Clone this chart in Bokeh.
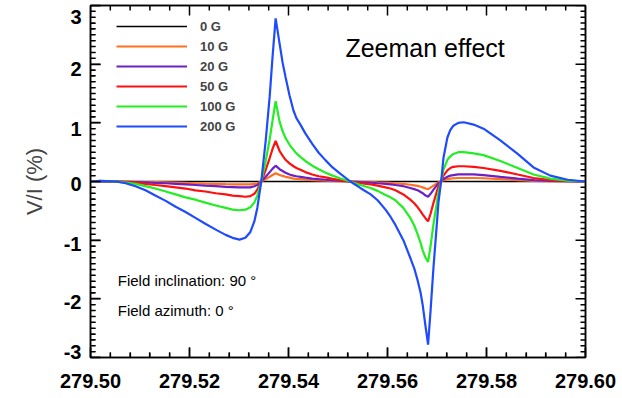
import numpy as np
from bokeh.plotting import figure
from bokeh.models import (LinearAxis, NumeralTickFormatter, FixedTicker,
                          Legend, LegendItem, Label, Range1d)
from bokeh.embed import file_html
from bokeh.resources import INLINE

# wavelength (nm)
wl = [279.5000, 279.5020, 279.5051, 279.5071, 279.5091, 279.5111, 279.5131, 279.5152,
      279.5172, 279.5192, 279.5212, 279.5232, 279.5253, 279.5273, 279.5287, 279.5301,
      279.5313, 279.5323, 279.5331, 279.5337, 279.5345, 279.5354, 279.5362, 279.5368,
      279.5374, 279.5382, 279.5388, 279.5394, 279.5402, 279.5410, 279.5416, 279.5424,
      279.5434, 279.5448, 279.5461, 279.5475, 279.5489, 279.5505,
      279.5525, 279.5545, 279.5566, 279.5580, 279.5596, 279.5606, 279.5616, 279.5632, 279.5646,
      279.5654, 279.5661, 279.5667, 279.5671, 279.5677, 279.5682, 279.5687, 279.5693, 279.5699,
      279.5703, 279.5709, 279.5713, 279.5721, 279.5727, 279.5733, 279.5743, 279.5754, 279.5774,
      279.5794, 279.5828, 279.5863, 279.5895, 279.5929, 279.5964, 279.6000]

v_0G = [0.0] * len(wl)

v_10G = [0.0, 0.0, 0.0, 0.0, -0.005, -0.01, -0.012, -0.015,
         -0.02, -0.025, -0.03, -0.035, -0.04, -0.045, -0.048, -0.05,
         -0.05, -0.05, -0.04, -0.03, 0.0, 0.04, 0.08, 0.11,
         0.14, 0.11, 0.095, 0.08, 0.065, 0.05, 0.045, 0.04,
         0.032, 0.025, 0.02, 0.015, 0.01, 0.005,
         0.0, -0.005, -0.01, -0.015, -0.02, -0.025, -0.03, -0.04, -0.055,
         -0.065, -0.075, -0.09, -0.10, -0.12, -0.13, -0.105, -0.07, -0.035,
         -0.015, 0.005, 0.02, 0.04, 0.05, 0.055, 0.06, 0.06, 0.06,
         0.055, 0.04, 0.025, 0.012, 0.005, 0.0, 0.0]

v_20G = [0.0, 0.0, 0.0, -0.005, -0.01, -0.015, -0.025, -0.03,
         -0.04, -0.05, -0.06, -0.07, -0.08, -0.09, -0.095, -0.10,
         -0.10, -0.10, -0.08, -0.06, 0.0, 0.08, 0.16, 0.22,
         0.27, 0.21, 0.18, 0.15, 0.12, 0.10, 0.09, 0.08,
         0.065, 0.05, 0.04, 0.03, 0.02, 0.01,
         0.0, -0.01, -0.02, -0.03, -0.04, -0.05, -0.06, -0.08, -0.11,
         -0.13, -0.15, -0.18, -0.20, -0.24, -0.26, -0.21, -0.14, -0.07,
         -0.03, 0.01, 0.04, 0.08, 0.10, 0.11, 0.12, 0.12, 0.12,
         0.11, 0.08, 0.05, 0.025, 0.01, 0.005, 0.0]

v_50G = [0.0, 0.005, 0.0, -0.01, -0.02, -0.04, -0.06, -0.08,
         -0.10, -0.12, -0.15, -0.17, -0.20, -0.22, -0.24, -0.25,
         -0.26, -0.25, -0.21, -0.14, 0.0, 0.20, 0.40, 0.56,
         0.69, 0.52, 0.44, 0.37, 0.31, 0.26, 0.23, 0.20,
         0.16, 0.12, 0.09, 0.07, 0.045, 0.02,
         0.0, -0.03, -0.05, -0.07, -0.10, -0.12, -0.15, -0.22, -0.31,
         -0.37, -0.44, -0.51, -0.56, -0.63, -0.68, -0.55, -0.36, -0.19,
         -0.08, 0.02, 0.10, 0.19, 0.23, 0.25, 0.26, 0.26, 0.25,
         0.23, 0.18, 0.12, 0.06, 0.025, 0.01, 0.0]

v_100G = [0.0, 0.01, 0.0, -0.02, -0.04, -0.08, -0.12, -0.17,
          -0.22, -0.27, -0.31, -0.36, -0.41, -0.45, -0.48, -0.49,
          -0.48, -0.44, -0.36, -0.24, 0.0, 0.35, 0.72, 1.05,
          1.37, 1.02, 0.86, 0.74, 0.63, 0.54, 0.48, 0.42,
          0.35, 0.27, 0.21, 0.15, 0.10, 0.05,
          0.0, -0.06, -0.11, -0.16, -0.23, -0.27, -0.32, -0.45, -0.62,
          -0.75, -0.90, -1.05, -1.17, -1.30, -1.37, -1.10, -0.72, -0.40,
          -0.18, 0.03, 0.20, 0.37, 0.43, 0.47, 0.50, 0.50, 0.48,
          0.45, 0.35, 0.23, 0.12, 0.05, 0.015, 0.0]

v_200G = [0.0, 0.01, 0.0, -0.03, -0.08, -0.15, -0.24, -0.33,
          -0.43, -0.52, -0.62, -0.72, -0.82, -0.91, -0.96, -0.99,
          -0.96, -0.86, -0.68, -0.45, 0.0, 0.70, 1.45, 2.15,
          2.78, 2.35, 2.03, 1.78, 1.47, 1.21, 1.08, 0.97,
          0.82, 0.64, 0.49, 0.36, 0.24, 0.13,
          0.0, -0.11, -0.22, -0.32, -0.48, -0.60, -0.74, -1.00, -1.30,
          -1.48, -1.69, -1.90, -2.10, -2.48, -2.78, -2.20, -1.45, -0.80,
          -0.35, 0.05, 0.40, 0.75, 0.88, 0.95, 1.00, 1.01, 0.97,
          0.90, 0.70, 0.47, 0.24, 0.10, 0.03, 0.0]

labels = ["0 G", "10 G", "20 G", "50 G", "100 G", "200 G"]
colors = ["#000000", "#FF7020", "#6A22C8", "#FF1010", "#22EE22", "#1E4BFF"]
series = [v_0G, v_10G, v_20G, v_50G, v_100G, v_200G]

# axis ranges and ticks
x_start, x_end = 279.50, 279.60
y_start, y_end = -3.0, 3.0
x_major = [279.50, 279.52, 279.54, 279.56, 279.58, 279.60]
x_minor = [float(v) for v in np.round(np.arange(279.500, 279.6001, 0.004), 3) if v not in x_major]
y_major = [-3, -2, -1, 0, 1, 2, 3]
y_minor = [float(v) for v in np.round(np.arange(-3.0, 3.001, 0.1), 1) if v not in y_major]

# y tick labels (IDL style: printed slightly below their ticks, end labels pulled inward)
y_label_text = ["3", "2", "1", "0", "-1", "-2", "-3"]
y_label_pos = [2.8, 1.91, 0.9, -0.05, -1.07, -2.06, -2.9]

FONT = "Liberation Sans"
W, H = 622, 398
B_LEFT, B_RIGHT, B_TOP, B_BOTTOM = 90, 37, 5, 41
FRAME_W = W - B_LEFT - B_RIGHT
FRAME_H = H - B_TOP - B_BOTTOM
DX = (x_end - x_start) / FRAME_W   # data units per pixel
DY = (y_end - y_start) / FRAME_H
MAJ, MIN = 10, 5                    # inward tick lengths, px

p = figure(width=W, height=H, x_range=Range1d(x_start, x_end),
           y_range=Range1d(y_start, y_end), output_backend="svg",
           toolbar_location=None, min_border_left=B_LEFT, min_border_right=B_RIGHT,
           min_border_top=B_TOP, min_border_bottom=B_BOTTOM)
p.xgrid.visible = False
p.ygrid.visible = False
p.outline_line_color = "black"
p.outline_line_width = 1.5

def plain_axis(ax):
    ax.axis_line_color = "black"
    ax.axis_line_width = 1.5
    ax.major_tick_in = MAJ
    ax.major_tick_out = 0
    ax.minor_tick_in = MIN
    ax.minor_tick_out = 0
    ax.major_tick_line_color = "black"
    ax.minor_tick_line_color = "black"
    ax.major_tick_line_width = 1.5
    ax.minor_tick_line_width = 1.2
    ax.major_label_text_font = FONT
    ax.major_label_text_font_style = "bold"
    ax.major_label_text_color = "black"
    ax.major_label_text_font_size = "20px"

xb = p.xaxis[0]
xb.ticker = FixedTicker(ticks=x_major, minor_ticks=x_minor)
xb.formatter = NumeralTickFormatter(format="0.00")
plain_axis(xb)
xb.major_label_standoff = 16

# frame-side left axis: line and ticks only
yl = p.yaxis[0]
yl.ticker = FixedTicker(ticks=y_major, minor_ticks=y_minor)
plain_axis(yl)
yl.major_label_text_color = None
yl.major_label_text_font_size = "1px"
yl.major_label_standoff = 0

# label-only left axis
ylab = LinearAxis(ticker=FixedTicker(ticks=y_label_pos),
                  major_label_overrides={pos: txt for pos, txt in zip(y_label_pos, y_label_text)})
plain_axis(ylab)
ylab.axis_line_color = None
ylab.major_tick_line_color = None
ylab.minor_tick_line_color = None
ylab.major_tick_in = 0
ylab.minor_tick_in = 0
ylab.major_label_standoff = 9
ylab.axis_label = "V/I (%)"
ylab.axis_label_text_font = FONT
ylab.axis_label_text_font_style = "normal"
ylab.axis_label_text_font_size = "22px"
ylab.axis_label_standoff = 14
p.add_layout(ylab, "left")

# mirrored top and right axes (lines only; ticks drawn as segments below)
for side in ("above", "right"):
    ax = LinearAxis(ticker=FixedTicker(ticks=[]))
    plain_axis(ax)
    ax.major_label_text_color = None
    ax.major_label_text_font_size = "1px"
    ax.major_label_standoff = 0
    p.add_layout(ax, side)

# inward tick marks on all four sides
tick_kw = dict(line_color="black", line_width=1.5)
for ticks, ln in ((x_major, MAJ), (x_minor, MIN)):
    n = len(ticks)
    p.segment(x0=ticks, y0=[y_start] * n, x1=ticks, y1=[y_start + ln * DY] * n, **tick_kw)
    p.segment(x0=ticks, y0=[y_end] * n, x1=ticks, y1=[y_end - ln * DY] * n, **tick_kw)
for ticks, ln in ((y_major, MAJ), (y_minor, MIN)):
    n = len(ticks)
    p.segment(x0=[x_start] * n, y0=ticks, x1=[x_start + ln * DX] * n, y1=ticks, **tick_kw)
    p.segment(x0=[x_end] * n, y0=ticks, x1=[x_end - ln * DX] * n, y1=ticks, **tick_kw)

items = []
for lab, col, vals in zip(labels, colors, series):
    w = 1.5 if lab == "0 G" else 2.2
    r = p.line(wl, vals, line_color=col, line_width=w)
    items.append(LegendItem(label=lab, renderers=[r]))

leg = Legend(items=items, location=(26, 221), glyph_width=71, glyph_height=20,
             label_height=20, spacing=0, padding=0, margin=0, label_standoff=13,
             label_text_font=FONT, label_text_font_style="bold",
             label_text_font_size="13px", border_line_color=None,
             background_fill_alpha=0)
p.add_layout(leg)

p.add_layout(Label(x=279.5515, y=2.27, text="Zeeman effect", text_baseline="middle",
                   text_font=FONT, text_font_size="25px", text_color="black"))
p.add_layout(Label(x=279.5055, y=-1.69, text="Field inclination: 90 °", text_baseline="middle",
                   text_font=FONT, text_font_size="15px", text_color="black"))
p.add_layout(Label(x=279.5055, y=-2.20, text="Field azimuth: 0 °", text_baseline="middle",
                   text_font=FONT, text_font_size="15px", text_color="black"))

open("out.html", "w").write(file_html(p, INLINE))
